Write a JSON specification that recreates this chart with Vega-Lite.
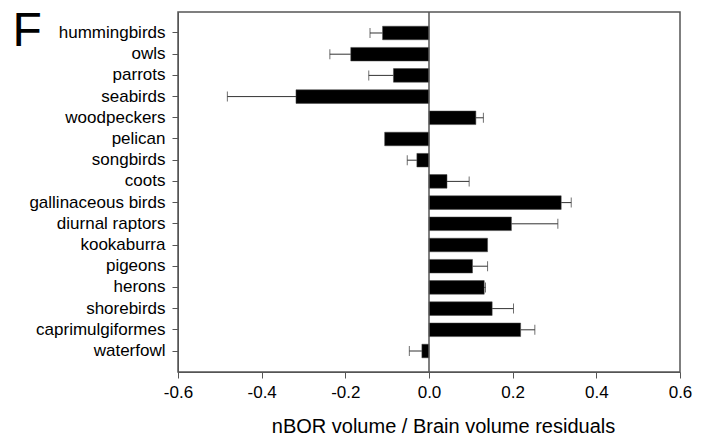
{
  "$schema": "https://vega.github.io/schema/vega-lite/v6.json",
  "autosize": {"type": "none"},
  "width": 502,
  "height": 360,
  "padding": {"left": 178, "top": 12, "right": 23, "bottom": 68},
  "background": "white",
  "config": {
    "view": {"stroke": "#555", "strokeWidth": 1.5},
    "axis": {"labelFont": "Liberation Sans", "titleFont": "Liberation Sans", "labelColor": "#000", "titleColor": "#000", "grid": false, "domainColor": "#555", "tickColor": "#555"}
  },
  "data": {"values": [
    {"group": "hummingbirds", "value": -0.111, "err": -0.141},
    {"group": "owls", "value": -0.187, "err": -0.237},
    {"group": "parrots", "value": -0.085, "err": -0.144},
    {"group": "seabirds", "value": -0.318, "err": -0.482},
    {"group": "woodpeckers", "value": 0.112, "err": 0.130},
    {"group": "pelican", "value": -0.106, "err": null},
    {"group": "songbirds", "value": -0.029, "err": -0.052},
    {"group": "coots", "value": 0.043, "err": 0.096},
    {"group": "gallinaceous birds", "value": 0.316, "err": 0.340},
    {"group": "diurnal raptors", "value": 0.197, "err": 0.308},
    {"group": "kookaburra", "value": 0.140, "err": null},
    {"group": "pigeons", "value": 0.104, "err": 0.140},
    {"group": "herons", "value": 0.132, "err": 0.135},
    {"group": "shorebirds", "value": 0.151, "err": 0.202},
    {"group": "caprimulgiformes", "value": 0.219, "err": 0.253},
    {"group": "waterfowl", "value": -0.017, "err": -0.047}
  ]},
  "layer": [
    {
      "transform": [{"filter": "datum.err != null"}],
      "mark": {"type": "rule", "color": "#333", "strokeWidth": 1},
      "encoding": {
        "y": {"field": "group", "type": "nominal", "sort": null},
        "x": {"field": "value", "type": "quantitative"},
        "x2": {"field": "err"}
      }
    },
    {
      "transform": [{"filter": "datum.err != null"}],
      "mark": {"type": "tick", "color": "#333", "size": 10, "thickness": 1},
      "encoding": {
        "y": {"field": "group", "type": "nominal", "sort": null},
        "x": {"field": "err", "type": "quantitative"}
      }
    },
    {
      "mark": {"type": "bar", "color": "black", "stroke": "#444", "strokeWidth": 0.5},
      "encoding": {
        "y": {"field": "group", "type": "nominal", "sort": null,
          "scale": {"domain": ["hummingbirds", "owls", "parrots", "seabirds", "woodpeckers", "pelican", "songbirds", "coots", "gallinaceous birds", "diurnal raptors", "kookaburra", "pigeons", "herons", "shorebirds", "caprimulgiformes", "waterfowl"], "paddingInner": 0.36, "paddingOuter": 0.67},
          "axis": {"title": "F", "titleAngle": 0, "titleFontSize": 48, "titleFontWeight": "normal", "titleAlign": "left", "titleBaseline": "alphabetic", "titleX": -166, "titleY": 33, "labelFontSize": 17, "tickSize": 6, "labelPadding": 7}},
        "x": {"field": "value", "type": "quantitative",
          "scale": {"domain": [-0.6, 0.6], "nice": false, "zero": false},
          "axis": {"values": [-0.6, -0.4, -0.2, 0, 0.2, 0.4, 0.6], "labelExpr": "replace(format(datum.value, '.1f'), '\u2212', '-')", "labelFontSize": 17, "tickSize": 6, "labelPadding": 6, "labelFlush": false, "title": "nBOR volume / Brain volume residuals", "titleFontSize": 20, "titleFontWeight": "normal", "titleX": 265, "titleY": 60, "titleBaseline": "alphabetic"}}
      }
    },
    {
      "data": {"values": [{"z": 0}]},
      "mark": {"type": "rule", "color": "#555", "strokeWidth": 1.5},
      "encoding": {"x": {"field": "z", "type": "quantitative"}}
    }
  ]
}
